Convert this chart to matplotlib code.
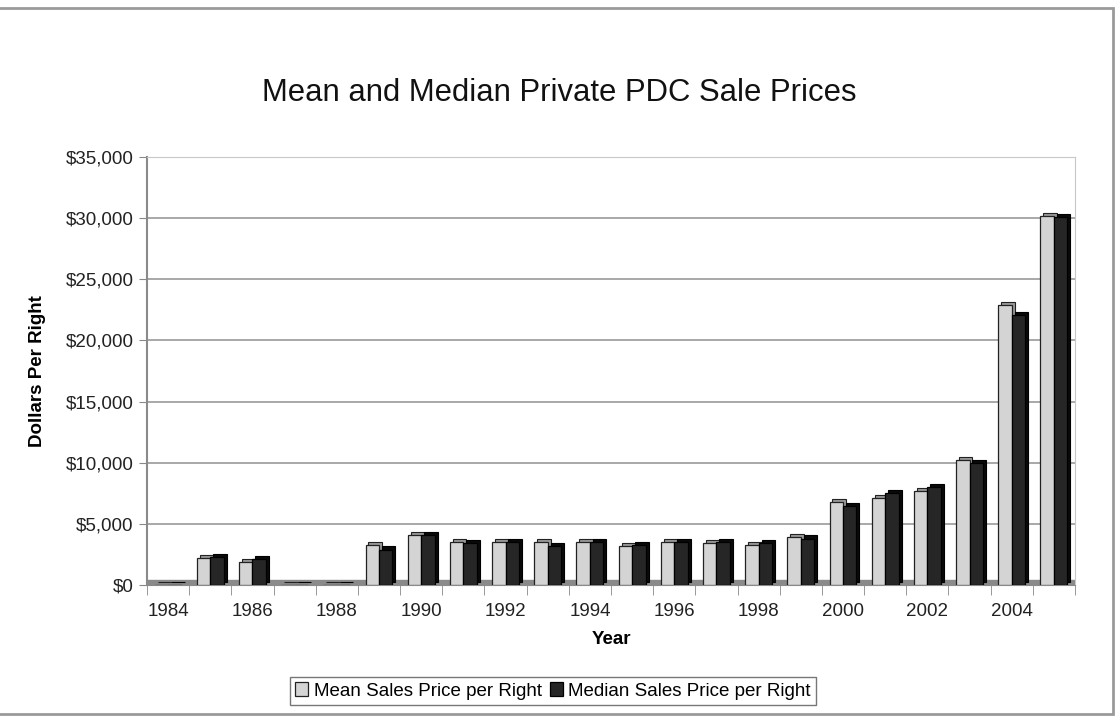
import matplotlib
matplotlib.use("Agg")
import matplotlib.pyplot as plt
import numpy as np
from matplotlib.patches import Rectangle
from matplotlib.ticker import FuncFormatter

plt.rcParams['font.family'] = ['Liberation Sans', 'DejaVu Sans']

years = list(range(1984, 2006))
mean_price = [0, 2200, 1900, 0, 0, 3300, 4100, 3500, 3550, 3550, 3550, 3200, 3550,
              3450, 3300, 3900, 6800, 7100, 7700, 10200, 22900, 30200]
median_price = [0, 2250, 2100, 0, 0, 2900, 4100, 3450, 3550, 3200, 3550, 3250, 3550,
                3500, 3400, 3800, 6450, 7500, 8000, 9950, 22100, 30100]
tick_years = [str(y) if y % 2 == 0 else "" for y in years]

fig = plt.figure(figsize=(11.18, 7.19), dpi=100)
ax = fig.add_axes([147 / 1118, 1 - 585 / 719, 928 / 1118, 428 / 719])

x = np.arange(len(years))
w = 0.32
dx, dy = 0.07, 250

# floor
ax.axhspan(0, 400, color='#8a8a8a', zorder=1)

# depth (side/top faces) then front faces
ax.bar(x - w / 2 + dx, mean_price, w, bottom=dy, color='#9a9a9a',
       edgecolor='#222222', linewidth=0.8, zorder=2)
ax.bar(x - w / 2, mean_price, w, color='#d4d4d4', edgecolor='#222222',
       linewidth=0.9, zorder=3, label='Mean Sales Price per Right')
ax.bar(x + w / 2 + dx, median_price, w, bottom=dy, color='#0a0a0a',
       edgecolor='#000000', linewidth=0.8, zorder=4)
ax.bar(x + w / 2, median_price, w, color='#262626', edgecolor='#000000',
       linewidth=0.9, zorder=5, label='Median Sales Price per Right')

ax.set_xlim(-0.5, len(years) - 0.5)
ax.set_ylim(0, 35000)
ax.set_yticks(np.arange(0, 35001, 5000))
ax.yaxis.set_major_formatter(FuncFormatter(lambda v, p: '${:,.0f}'.format(v)))
ax.yaxis.grid(True, color='#9a9a9a', linewidth=1.2, zorder=0)
ax.set_axisbelow(True)

ax.set_xticks(x)
ax.set_xticklabels(tick_years)
ax.set_xticks(np.arange(-0.5, len(years), 1), minor=True)
ax.tick_params(axis='x', which='major', length=0, pad=13, labelsize=13.5, colors='#222222')
ax.tick_params(axis='x', which='minor', length=7, color='#888888')
ax.tick_params(axis='y', length=6, color='#888888', labelsize=13.5, colors='#222222')

for s in ['top', 'right']:
    ax.spines[s].set_color('#c8c8c8')
ax.spines['left'].set_color('#8a8a8a')
ax.spines['left'].set_linewidth(1.5)
ax.spines['bottom'].set_color('#8a8a8a')

ax.set_xlabel('Year', fontsize=13.5, fontweight='bold', labelpad=8)
ax.set_ylabel('Dollars Per Right', fontsize=13.5, fontweight='bold', labelpad=14)

fig.text(0.5, 1 - 93 / 719, 'Mean and Median Private PDC Sale Prices',
         ha='center', va='center', fontsize=22.3, color='#111111')

leg = fig.legend(loc='center', bbox_to_anchor=(553 / 1118, 1 - 691 / 719), ncol=2,
                 fontsize=13.5, frameon=True, fancybox=False, edgecolor='#555555',
                 handlelength=0.7, handleheight=0.7, handletextpad=0.3,
                 columnspacing=0.4, borderpad=0.3)
leg.get_frame().set_linewidth(1.0)

# outer chart border
fig.patches.append(Rectangle((-0.01, 1 - 714 / 719), 1113 / 1118 + 0.01, (714 - 8) / 719,
                             transform=fig.transFigure, fill=False,
                             edgecolor='#9a9a9a', linewidth=2))

fig.savefig('out.png', dpi=100)
